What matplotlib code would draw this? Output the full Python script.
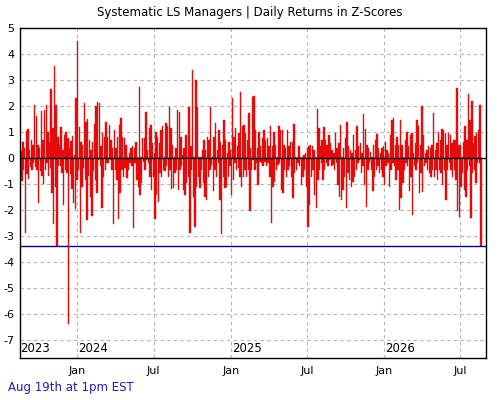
import matplotlib
matplotlib.use("Agg")
import matplotlib.pyplot as plt
import matplotlib.dates as mdates
import numpy as np
import pandas as pd

plt.rcParams["axes.unicode_minus"] = False

# daily z-scores (left -> right)
daily_z = [
    0.25, -0.9, 0.6, -0.45, 0.4, -2.9, 1.05, -0.6, 1.1, -0.8, 0.3, -0.35, 0.7, -0.45, 0.5, -0.2,
    2.05, -0.35, 1.6, -0.45, 0.5, -1.75, 0.4, -0.5, 1.8, -0.7, 0.7, -1.0, 1.85, -0.46, 2.05, -0.21,
    1.0, -0.7, 0.6, -0.4, 2.65, -1.35, 1.15, -2.55, 3.55, -1.1, 2.05, -3.4, 0.8, -0.33, 0.5, -0.3,
    1.2, -0.59, 0.3, -1.8, 0.9, -0.46, 1.0, -0.59, 0.75, -6.4, 0.4, -0.6, 0.65, -1.2, 0.85, -1.75,
    0.1, -1.95, 2.3, -0.85, 4.5, -0.46, 1.2, -2.9, 0.6, -1.1, 0.5, -0.4, 2.1, -0.85, 1.4, -2.4,
    1.5, -0.7, 0.7, -1.5, 0.3, -2.25, 0.6, -0.5, 1.3, -0.85, 2.0, -1.35,
    # 2024
    2.17, -0.08, 2.1, -0.33, 0.44, -1.94, 0.95, -0.72, 0.82, -0.46, 1.4, -0.21, 0.82, -0.21,
    1.27, -0.08, 0.69, -0.46, 0.37, -2.55, 1.08, -0.46, 0.37, -0.85, 0.82, -2.36, 1.27, -1.36,
    1.53, -0.46, 0.82, -0.72, 0.76, -0.4, 0.5, -0.78, 0.05, -0.46, 0.18, -0.21, 0.37, -0.33,
    0.44, -2.71, 0.37, -0.21, 0.63, -0.85, 0.05, -1.1, 2.72, -1.42, 0.05, -0.97, 0.76, -0.14,
    0.76, -0.46, 1.78, -0.08, 0.31, -0.21, 1.14, -0.72, 1.27, -1.23, 0.56, -0.72, 0.18, -2.36,
    1.01, -1.42, 0.82, -1.68, 0.56, -0.59, 1.08, -0.72, 1.21, -0.46, 0.05, -0.5, 1.33, -0.33,
    1.21, -0.72, 1.97, -0.46, 1.14, -1.2, 0.5, -1.17, 0.05, -0.59,
    0.37, -0.46, 1.85, -1.23, 1.78, -0.46, 0.82, -0.33, 0.12, -1.23, 0.37, -1.42, 0.88, -0.97,
    0.05, -0.72, 1.97, -2.9, 0.44, -0.46, 3.38, -1.49, 0.05, -2.64, 3.0, -1.1, 1.97, -0.72,
    0.02, -1.17, 0.05, -0.46, 0.31, -0.97, 0.69, -1.49, 0.31, -1.62, 0.82, -0.72, 0.69, -0.46,
    1.97, -0.27, 0.05, -1.29, 0.82, -0.46, 1.33, -0.72, 0.31, -0.21, 1.08, -1.62, 0.63, -2.92,
    0.5, -0.72, 1.46, -1.17, 0.69, -1.1, 0.18, -0.72, 0.63, -0.33, 0.31, -1.42, 2.29, -0.85,
    0.82, -0.21, 1.14, -0.46, 0.44, -0.4, 0.95, -0.72, 2.55, -1.1, 1.21, -0.72, 1.27, -0.46,
    0.95, -0.72, 0.69, -0.46, 1.72, -2.06, 0.37, -0.46, 2.36, -0.08,
    # 2025
    2.4, -0.46, 1.08, -0.21, 0.37, -1.04, 1.01, -0.14, 0.44, -0.21, 0.76, -0.33, 1.08, -0.14,
    0.69, -0.33, 0.76, -0.21, 0.44, -0.72, 1.21, -2.49, 0.44, -1.1, 1.01, -0.91, 0.5, -0.46,
    0.05, -0.27, 1.21, -0.21, 1.08, -1.23, 1.08, -1.36, 0.5, -0.46, 0.37, -0.72, 1.08, -0.46,
    0.44, -0.33, 0.63, -0.72, 0.63, -1.55, 1.31, -0.59, 0.05, -0.46, 0.05, -0.21, 0.44, -0.33,
    0.05, -1.04, 0.02, -0.72, 0.12, -0.46, 0.18, -1.1, 0.37, -2.64, 0.44, -1.81, 0.5, -0.72,
    0.44, -0.46, 0.31, -1.42, 0.05, -1.94, 1.87, -0.85, 1.14, -0.46, 0.44, -0.21, 0.69, -0.85,
    1.18, -0.46, 0.69, -0.21, 0.5, -0.33, 0.88, -0.08, 0.56, -0.33,
    0.31, -0.27, 0.18, -0.46, 0.95, -0.21, 0.37, -1.04, 0.56, -1.49, 1.27, -1.62, 0.05, -1.23,
    0.37, -0.72, 0.76, -1.94, 1.37, -0.59, 0.44, -0.85, 0.31, -1.1, 0.18, -0.91, 0.88, -0.72,
    0.31, -0.46, 1.21, -0.21, 0.44, -0.08, 0.56, -0.59, 0.18, -0.33, 1.69, -1.04, 1.1, -1.9,
    0.5, -0.46, 0.37, -0.21, 0.24, -0.46, 0.05, -1.29, 0.5, -0.72, 0.69, -0.46, 0.92, -0.33,
    0.37, -0.59, 0.18, -0.46, 0.37, -0.72, 0.44, -1.04, 0.63, -0.33, 0.31, -0.21, 0.18, -1.1,
    0.88, -0.46, 1.46, -0.21, 1.53, -0.33, 0.5, -0.85, 0.82, -0.46, 0.5, -2.0, 1.46, -1.55,
    0.5, -0.97, 0.05, -0.46, 0.69, -0.21, 1.01, -0.33, 0.44, -1.29,
    # 2026
    0.88, -0.72, 0.95, -2.19, 0.18, -0.33, 0.56, -0.46, 1.46, -0.21, 1.21, -1.36, 0.5, -0.59,
    2.0, -1.33, 0.88, -0.33, 0.18, -0.21, 0.31, -0.46, 0.44, -0.59, 0.37, -0.72, 0.5, -0.46,
    1.74, -0.72, 0.31, -0.46, 0.56, -0.85, 1.01, -0.46, 0.69, -0.59, 1.1, -1.04, 1.08, -0.46,
    0.95, -1.62, 0.5, -0.46, 0.95, -0.21, 0.88, -0.46, 0.56, -0.72, 0.69, -0.46, 0.69, -0.85,
    2.68, -2.06, 0.5, -2.26, 0.5, -1.1, 0.02, -0.59, 0.63, -1.23, 1.21, -1.49, 0.69, -0.46,
    2.46, -0.33, 1.46, -2.32, 2.2, -0.59, 0.56, -0.46, 0.85, -0.97, 0.95, -0.21, 1.08, -0.21,
    2.04, -3.38,
]
first_day = "2023-08-21"
last_day = "2026-08-19"
y_ticks = list(range(-7, 6))
year_labels = ["2023", "2024", "2025", "2026"]
year_pos = ["2023-08-19", "2024-01-03", "2025-01-03", "2026-01-03"]

dates = pd.date_range(first_day, last_day, periods=len(daily_z))
z = np.array(daily_z)
latest = z[-1]

fig = plt.figure(figsize=(5, 4), dpi=100)
ax = fig.add_axes([0.04, 0.105, 0.932, 0.825])

ax.bar(dates, z, width=3.3, color="#ff0000", edgecolor="#b82020", linewidth=0.3, zorder=2)
ax.axhline(0, color="black", lw=1, zorder=3)
ax.axhline(latest, color="#00008b", lw=1, zorder=3)

ax.set_ylim(-7.7, 5)
ax.set_yticks(y_ticks)
ax.set_xlim(pd.Timestamp("2023-08-18"), pd.Timestamp("2026-08-31"))
ax.xaxis.set_major_locator(mdates.MonthLocator(bymonth=[1, 7]))
ax.xaxis.set_major_formatter(mdates.DateFormatter("%b"))
ax.tick_params(axis="both", length=0, labelsize=8)
ax.tick_params(axis="x", pad=6)
ax.tick_params(axis="y", pad=4)
ax.grid(True, color="#b4b4b4", linestyle=(0, (3, 3)), lw=0.8, zorder=0)
for s in ax.spines.values():
    s.set_color("black")
    s.set_linewidth(1)

for lab, pos in zip(year_labels, year_pos):
    ax.annotate(lab, xy=(pd.Timestamp(pos), 0), xycoords=("data", "axes fraction"),
                xytext=(0, 2), textcoords="offset points", fontsize=8.5, va="bottom", ha="left")

fig.text(0.5, 0.968, "Systematic LS Managers | Daily Returns in Z-Scores", ha="center", va="center", fontsize=8.5)
fig.text(0.016, 0.03, "Aug 19th at 1pm EST", ha="left", va="center", fontsize=8.5, color="#1f1fb0")

fig.savefig("out.png", dpi=100)
